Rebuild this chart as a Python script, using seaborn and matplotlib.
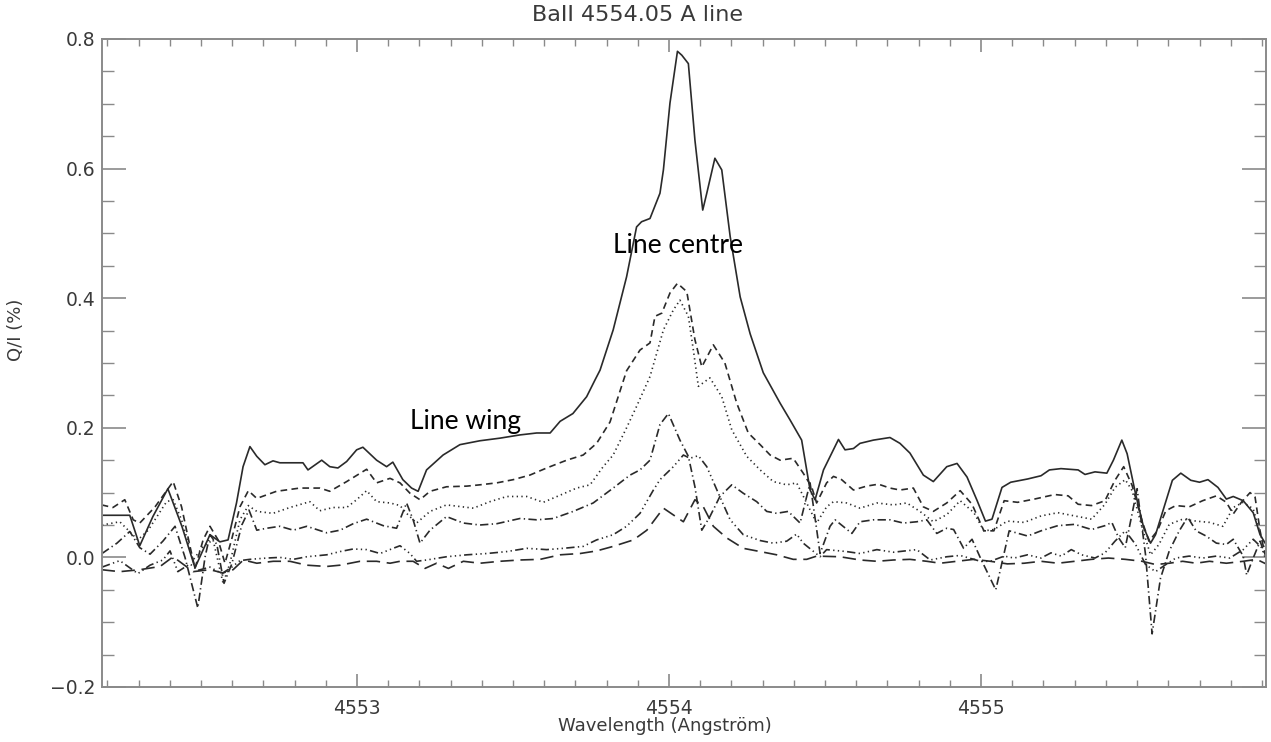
import numpy as np
import pandas as pd
import matplotlib
matplotlib.use("Agg")
import matplotlib.pyplot as plt
from matplotlib.ticker import MultipleLocator
import seaborn as sns

# ---------------- data ----------------
wl_solid = [4552.183, 4552.272, 4552.304, 4552.346, 4552.394, 4552.439, 4552.481, 4552.529, 4552.561, 4552.587,
            4552.614, 4552.635, 4552.657, 4552.679, 4552.705, 4552.731, 4552.753, 4552.795, 4552.827, 4552.843,
            4552.887, 4552.913, 4552.939, 4552.967, 4552.999, 4553.019, 4553.063, 4553.095, 4553.115, 4553.147,
            4553.175, 4553.196, 4553.223, 4553.276, 4553.330, 4553.394, 4553.458, 4553.522, 4553.576, 4553.619,
            4553.651, 4553.692, 4553.736, 4553.763, 4553.779, 4553.821, 4553.864, 4553.896, 4553.912, 4553.939,
            4553.971, 4553.982, 4554.003, 4554.027, 4554.041, 4554.062, 4554.083, 4554.108, 4554.121, 4554.147,
            4554.169, 4554.196, 4554.228, 4554.260, 4554.302, 4554.356, 4554.388, 4554.425, 4554.452, 4554.468,
            4554.495, 4554.543, 4554.564, 4554.591, 4554.612, 4554.655, 4554.708, 4554.740, 4554.772, 4554.815,
            4554.847, 4554.890, 4554.923, 4554.955, 4554.987, 4555.014, 4555.035, 4555.067, 4555.095, 4555.149,
            4555.192, 4555.219, 4555.256, 4555.311, 4555.333, 4555.365, 4555.403, 4555.424, 4555.451, 4555.468,
            4555.495, 4555.521, 4555.543, 4555.559, 4555.586, 4555.613, 4555.640, 4555.672, 4555.700, 4555.727,
            4555.759, 4555.786, 4555.808, 4555.840, 4555.872, 4555.894, 4555.913]
qi_solid = [0.065, 0.065, 0.018, 0.063, 0.106, 0.048, -0.016, 0.035, 0.024, 0.027,
            0.084, 0.140, 0.171, 0.156, 0.143, 0.149, 0.146, 0.146, 0.146, 0.135,
            0.150, 0.140, 0.138, 0.148, 0.166, 0.170, 0.150, 0.140, 0.147, 0.120,
            0.107, 0.102, 0.135, 0.158, 0.174, 0.180, 0.184, 0.189, 0.192, 0.192,
            0.210, 0.222, 0.248, 0.274, 0.289, 0.351, 0.433, 0.510, 0.518, 0.523,
            0.562, 0.598, 0.701, 0.781, 0.775, 0.762, 0.644, 0.536, 0.562, 0.616,
            0.598, 0.495, 0.402, 0.345, 0.285, 0.238, 0.212, 0.181, 0.104, 0.089,
            0.135, 0.182, 0.166, 0.168, 0.176, 0.181, 0.185, 0.176, 0.161, 0.127,
            0.117, 0.140, 0.145, 0.124, 0.088, 0.056, 0.059, 0.108, 0.116, 0.121,
            0.126, 0.135, 0.137, 0.135, 0.128, 0.132, 0.130, 0.150, 0.181, 0.160,
            0.098, 0.046, 0.022, 0.035, 0.077, 0.119, 0.130, 0.119, 0.116, 0.120,
            0.108, 0.090, 0.094, 0.0875, 0.069, 0.035, 0.020]

wl_dashed = [4552.182, 4552.218, 4552.256, 4552.283, 4552.304, 4552.353, 4552.411, 4552.438, 4552.465, 4552.481,
             4552.507, 4552.529, 4552.555, 4552.577, 4552.598, 4552.625, 4552.652, 4552.679, 4552.742, 4552.817,
             4552.881, 4552.913, 4552.967, 4553.031, 4553.063, 4553.106, 4553.138, 4553.170, 4553.202, 4553.234,
             4553.287, 4553.352, 4553.394, 4553.448, 4553.501, 4553.554, 4553.608, 4553.672, 4553.725, 4553.768,
             4553.811, 4553.864, 4553.907, 4553.939, 4553.955, 4553.977, 4554.003, 4554.027, 4554.057, 4554.083,
             4554.105, 4554.142, 4554.179, 4554.217, 4554.254, 4554.292, 4554.324, 4554.356, 4554.398, 4554.430,
             4554.457, 4554.473, 4554.505, 4554.527, 4554.553, 4554.591, 4554.633, 4554.671, 4554.708, 4554.740,
             4554.783, 4554.815, 4554.847, 4554.890, 4554.933, 4554.971, 4555.009, 4555.041, 4555.074, 4555.117,
             4555.171, 4555.236, 4555.279, 4555.311, 4555.354, 4555.397, 4555.429, 4555.457, 4555.484, 4555.516,
             4555.538, 4555.565, 4555.592, 4555.624, 4555.667, 4555.710, 4555.754, 4555.786, 4555.808, 4555.834,
             4555.862, 4555.878, 4555.894, 4555.910]
qi_dashed = [0.081, 0.077, 0.089, 0.058, 0.053, 0.078, 0.117, 0.078, 0.017, -0.017,
             0.027, 0.048, 0.027, -0.009, 0.027, 0.078, 0.103, 0.091, 0.102, 0.107,
             0.107, 0.102, 0.117, 0.136, 0.115, 0.122, 0.115, 0.099, 0.089, 0.102,
             0.109, 0.110, 0.112, 0.115, 0.120, 0.127, 0.138, 0.150, 0.158, 0.176,
             0.209, 0.288, 0.320, 0.331, 0.372, 0.377, 0.408, 0.423, 0.410, 0.336,
             0.294, 0.328, 0.300, 0.238, 0.192, 0.174, 0.158, 0.150, 0.153, 0.130,
             0.109, 0.084, 0.115, 0.125, 0.120, 0.104, 0.110, 0.113, 0.107, 0.104,
             0.107, 0.078, 0.071, 0.084, 0.103, 0.082, 0.041, 0.041, 0.0875, 0.085,
             0.090, 0.097, 0.095, 0.082, 0.080, 0.0875, 0.119, 0.140, 0.111, 0.056,
             0.025, 0.041, 0.072, 0.080, 0.078, 0.0875, 0.095, 0.085, 0.067, 0.085,
             0.100, 0.093, 0.041, 0.004]

wl_dotted = [4552.183, 4552.240, 4552.298, 4552.331, 4552.390, 4552.411, 4552.438, 4552.475, 4552.507, 4552.539,
             4552.571, 4552.593, 4552.625, 4552.652, 4552.679, 4552.731, 4552.785, 4552.849, 4552.881, 4552.923,
             4552.967, 4552.999, 4553.031, 4553.063, 4553.106, 4553.138, 4553.159, 4553.191, 4553.234, 4553.287,
             4553.373, 4553.426, 4553.480, 4553.544, 4553.597, 4553.651, 4553.704, 4553.747, 4553.789, 4553.821,
             4553.864, 4553.896, 4553.939, 4553.982, 4554.014, 4554.035, 4554.062, 4554.078, 4554.094, 4554.131,
             4554.169, 4554.201, 4554.249, 4554.292, 4554.334, 4554.377, 4554.409, 4554.441, 4554.473, 4554.505,
             4554.527, 4554.569, 4554.612, 4554.666, 4554.719, 4554.762, 4554.804, 4554.847, 4554.890, 4554.933,
             4554.977, 4555.009, 4555.041, 4555.084, 4555.138, 4555.192, 4555.246, 4555.300, 4555.354, 4555.397,
             4555.429, 4555.462, 4555.484, 4555.516, 4555.543, 4555.570, 4555.603, 4555.646, 4555.689, 4555.732,
             4555.775, 4555.808, 4555.840, 4555.872, 4555.899, 4555.913]
qi_dotted = [0.050, 0.055, 0.027, 0.042, 0.086, 0.089, 0.058, -0.004, 0.017, 0.027,
             -0.040, -0.009, 0.058, 0.080, 0.071, 0.068, 0.077, 0.086, 0.072, 0.077,
             0.077, 0.089, 0.103, 0.086, 0.084, 0.080, 0.068, 0.053, 0.071, 0.081,
             0.076, 0.086, 0.094, 0.094, 0.085, 0.096, 0.107, 0.112, 0.140, 0.158,
             0.200, 0.233, 0.279, 0.351, 0.382, 0.397, 0.372, 0.320, 0.264, 0.277,
             0.248, 0.197, 0.156, 0.135, 0.117, 0.112, 0.115, 0.084, 0.053, 0.078,
             0.086, 0.084, 0.076, 0.084, 0.081, 0.084, 0.071, 0.055, 0.066, 0.0875,
             0.069, 0.041, 0.043, 0.056, 0.054, 0.064, 0.069, 0.064, 0.059, 0.082,
             0.108, 0.120, 0.103, 0.046, 0.004, 0.020, 0.051, 0.059, 0.056, 0.054,
             0.048, 0.077, 0.085, 0.075, 0.030, 0.004]

wl_dashdot = [4552.183, 4552.231, 4552.272, 4552.304, 4552.337, 4552.378, 4552.417, 4552.449, 4552.490, 4552.513,
              4552.529, 4552.551, 4552.574, 4552.599, 4552.631, 4552.654, 4552.679, 4552.711, 4552.753, 4552.796,
              4552.839, 4552.903, 4552.946, 4552.988, 4553.031, 4553.084, 4553.127, 4553.159, 4553.180, 4553.202,
              4553.234, 4553.287, 4553.341, 4553.394, 4553.448, 4553.522, 4553.576, 4553.629, 4553.693, 4553.757,
              4553.821, 4553.875, 4553.907, 4553.939, 4553.971, 4553.998, 4554.035, 4554.062, 4554.083, 4554.105,
              4554.131, 4554.163, 4554.201, 4554.238, 4554.281, 4554.313, 4554.345, 4554.382, 4554.420, 4554.452,
              4554.484, 4554.516, 4554.532, 4554.586, 4554.612, 4554.655, 4554.708, 4554.751, 4554.794, 4554.826,
              4554.858, 4554.890, 4554.912, 4554.944, 4554.971, 4554.998, 4555.047, 4555.068, 4555.090, 4555.149,
              4555.192, 4555.246, 4555.300, 4555.354, 4555.397, 4555.419, 4555.441, 4555.462, 4555.500, 4555.527,
              4555.548, 4555.575, 4555.603, 4555.635, 4555.662, 4555.689, 4555.721, 4555.754, 4555.786, 4555.808,
              4555.840, 4555.851, 4555.872, 4555.894, 4555.913]
qi_dashdot = [0.006, 0.022, 0.040, 0.015, 0.005, 0.025, 0.048, 0.000, -0.078, 0.000,
              0.035, 0.020, -0.040, -0.010, 0.050, 0.073, 0.042, 0.045, 0.048, 0.042,
              0.048, 0.038, 0.042, 0.052, 0.059, 0.049, 0.045, 0.084, 0.058, 0.022,
              0.042, 0.063, 0.053, 0.050, 0.052, 0.060, 0.058, 0.060, 0.071, 0.084,
              0.107, 0.127, 0.135, 0.150, 0.205, 0.222, 0.181, 0.156, 0.109, 0.042,
              0.063, 0.094, 0.112, 0.099, 0.086, 0.071, 0.068, 0.071, 0.053, 0.115,
              0.006, 0.048, 0.058, 0.037, 0.055, 0.058, 0.058, 0.053, 0.055, 0.058,
              0.037, 0.045, 0.043, 0.014, 0.028, -0.001, -0.050, -0.006, 0.041, 0.033,
              0.041, 0.049, 0.051, 0.043, 0.049, 0.054, 0.030, 0.015, 0.106, 0.004,
              -0.118, -0.032, 0.010, 0.041, 0.062, 0.041, 0.033, 0.022, 0.020, 0.028,
              0.002, -0.027, -0.001, 0.025, 0.000]

wl_dashdot3 = [4552.183, 4552.240, 4552.298, 4552.337, 4552.378, 4552.401, 4552.426, 4552.465, 4552.490, 4552.529,
               4552.567, 4552.599, 4552.625, 4552.657, 4552.711, 4552.753, 4552.796, 4552.839, 4552.903, 4552.946,
               4552.988, 4553.031, 4553.074, 4553.116, 4553.138, 4553.170, 4553.191, 4553.223, 4553.287, 4553.352,
               4553.416, 4553.480, 4553.544, 4553.608, 4553.661, 4553.725, 4553.768, 4553.821, 4553.864, 4553.907,
               4553.950, 4553.971, 4554.014, 4554.046, 4554.067, 4554.094, 4554.121, 4554.158, 4554.196, 4554.238,
               4554.292, 4554.334, 4554.377, 4554.409, 4554.430, 4554.484, 4554.505, 4554.569, 4554.612, 4554.666,
               4554.719, 4554.794, 4554.837, 4554.890, 4554.933, 4554.998, 4555.030, 4555.074, 4555.106, 4555.149,
               4555.192, 4555.224, 4555.257, 4555.289, 4555.322, 4555.365, 4555.397, 4555.429, 4555.462, 4555.495,
               4555.527, 4555.559, 4555.592, 4555.624, 4555.667, 4555.710, 4555.754, 4555.797, 4555.840, 4555.872,
               4555.899, 4555.913]
qi_dashdot3 = [-0.015, -0.005, -0.025, -0.012, -0.004, 0.010, -0.022, -0.010, -0.020, -0.015,
               -0.025, -0.015, -0.005, -0.003, -0.001, 0.000, -0.003, 0.001, 0.004, 0.009,
               0.013, 0.012, 0.006, 0.014, 0.018, 0.006, -0.006, -0.004, 0.001, 0.004,
               0.006, 0.009, 0.014, 0.012, 0.014, 0.017, 0.027, 0.035, 0.048, 0.068,
               0.104, 0.120, 0.140, 0.158, 0.153, 0.157, 0.140, 0.099, 0.058, 0.035,
               0.026, 0.022, 0.025, 0.036, 0.022, 0.001, 0.012, 0.009, 0.006, 0.012,
               0.008, 0.012, -0.004, 0.001, 0.003, -0.006, -0.006, 0.002, -0.001, 0.004,
               -0.001, 0.007, 0.002, 0.012, 0.004, -0.001, 0.007, 0.025, 0.041, 0.020,
               -0.011, -0.022, -0.011, -0.001, 0.002, -0.001, 0.002, -0.001, 0.012, 0.028,
               0.015, -0.004]

wl_longdash = [4552.182, 4552.240, 4552.304, 4552.369, 4552.411, 4552.475, 4552.529, 4552.571, 4552.603, 4552.636,
               4552.679, 4552.732, 4552.785, 4552.839, 4552.903, 4552.946, 4553.010, 4553.063, 4553.106, 4553.138,
               4553.180, 4553.218, 4553.255, 4553.293, 4553.341, 4553.394, 4553.458, 4553.522, 4553.587, 4553.651,
               4553.715, 4553.768, 4553.821, 4553.886, 4553.929, 4553.982, 4554.046, 4554.083, 4554.110, 4554.142,
               4554.185, 4554.238, 4554.292, 4554.345, 4554.398, 4554.441, 4554.473, 4554.548, 4554.612, 4554.666,
               4554.719, 4554.772, 4554.826, 4554.869, 4554.922, 4554.977, 4555.030, 4555.084, 4555.138, 4555.192,
               4555.246, 4555.300, 4555.354, 4555.408, 4555.462, 4555.516, 4555.559, 4555.603, 4555.646, 4555.689,
               4555.732, 4555.786, 4555.840, 4555.883, 4555.913]
qi_longdash = [-0.019, -0.022, -0.019, -0.014, 0.001, -0.022, -0.019, -0.024, -0.019, -0.004,
               -0.009, -0.006, -0.006, -0.012, -0.014, -0.012, -0.006, -0.006, -0.009, -0.006,
               -0.006, -0.017, -0.009, -0.017, -0.006, -0.009, -0.006, -0.004, -0.003, 0.004,
               0.006, 0.010, 0.017, 0.027, 0.042, 0.076, 0.055, 0.089, 0.078, 0.048,
               0.030, 0.014, 0.009, 0.004, -0.003, -0.003, 0.002, 0.001, -0.004, -0.006,
               -0.004, -0.003, -0.006, -0.009, -0.006, -0.003, -0.006, -0.010, -0.009, -0.006,
               -0.009, -0.006, -0.003, -0.001, -0.003, -0.006, -0.011, -0.009, -0.006, -0.009,
               -0.006, -0.009, -0.006, -0.003, -0.010]

series_names = ["solid", "dashed", "dotted", "dashdot", "dashdot3", "longdash"]
x_major_ticks = [4553, 4554, 4555]
y_major_ticks = [-0.2, 0.0, 0.2, 0.4, 0.6, 0.8]
title_text = "BaII 4554.05 A line"
xlabel_text = "Wavelength (Angström)"
ylabel_text = "Q/I (%)"
annot_centre = ("Line centre", 4553.821, 0.481)
annot_wing = ("Line wing", 4553.170, 0.209)

# ---------------- build long table ----------------
frames = []
for name, xs, ys in zip(series_names,
                        [wl_solid, wl_dashed, wl_dotted, wl_dashdot, wl_dashdot3, wl_longdash],
                        [qi_solid, qi_dashed, qi_dotted, qi_dashdot, qi_dashdot3, qi_longdash]):
    frames.append(pd.DataFrame({"wl": xs, "qi": ys, "profile": name}))
df = pd.concat(frames, ignore_index=True)

# ---------------- style ----------------
sns.set_style("white")
plt.rcParams["font.family"] = ["DejaVu Sans"]

dash_map = {
    "solid": "",
    "dashed": (4, 2.6),
    "dotted": (0.8, 2.0),
    "dashdot": (5, 2, 0.8, 2),
    "dashdot3": (5, 2, 0.8, 2, 0.8, 2, 0.8, 2),
    "longdash": (8, 4),
}

W, H = 1271, 742
fig = plt.figure(figsize=(W / 100, H / 100), dpi=100)
L, R, T, B = 102, 1266, 39, 687
ax = fig.add_axes([L / W, 1 - B / H, (R - L) / W, (B - T) / H])

sns.lineplot(data=df, x="wl", y="qi", style="profile", style_order=series_names,
             dashes=dash_map, color="#2a2a2a", linewidth=1.2, estimator=None,
             sort=False, legend=False, ax=ax)

ax.set_xlim(4552.183, 4555.913)
ax.set_ylim(-0.2, 0.8)

axis_grey = "#8a8a8a"
text_grey = "#3a3a3a"
for sp in ax.spines.values():
    sp.set_color(axis_grey)
    sp.set_linewidth(1.4)

ax.set_xticks(x_major_ticks)
ax.set_xticklabels([str(t) for t in x_major_ticks])
ax.set_yticks(y_major_ticks)
ax.set_yticklabels([f"{t:.1f}".replace("-", "\u2212") for t in y_major_ticks])
ax.xaxis.set_minor_locator(MultipleLocator(0.1))
ax.yaxis.set_minor_locator(MultipleLocator(0.05))

ax.tick_params(axis="x", which="major", direction="in", length=9.4, width=1.2,
               color=axis_grey, top=True, bottom=True, labelsize=13.5, labelcolor=text_grey, pad=9)
ax.tick_params(axis="x", which="minor", direction="in", length=4.7, width=1.0,
               color=axis_grey, top=True, bottom=True)
ax.tick_params(axis="y", which="major", direction="in", length=17, width=1.2,
               color=axis_grey, left=True, right=True, labelsize=13.5, labelcolor=text_grey, pad=5)
ax.tick_params(axis="y", which="minor", direction="in", length=8.6, width=1.0,
               color=axis_grey, left=True, right=True)

ax.set_xlabel(xlabel_text, fontsize=13, color=text_grey)
ax.set_ylabel(ylabel_text, fontsize=13, color=text_grey)
ax.xaxis.set_label_coords((665 - L) / (R - L), -(717 - B) / (B - T))
ax.yaxis.set_label_coords((25 - L) / (R - L), (B - 330) / (B - T))
fig.text(638 / W, 1 - 15 / H, title_text, ha="center", va="center", fontsize=16, color=text_grey)

for txt, xx, yy in [annot_centre, annot_wing]:
    ax.text(xx, yy, txt, ha="left", va="center", fontsize=19, color="black",
            family=["Lato", "DejaVu Sans"])

fig.savefig("out.png", dpi=100)
